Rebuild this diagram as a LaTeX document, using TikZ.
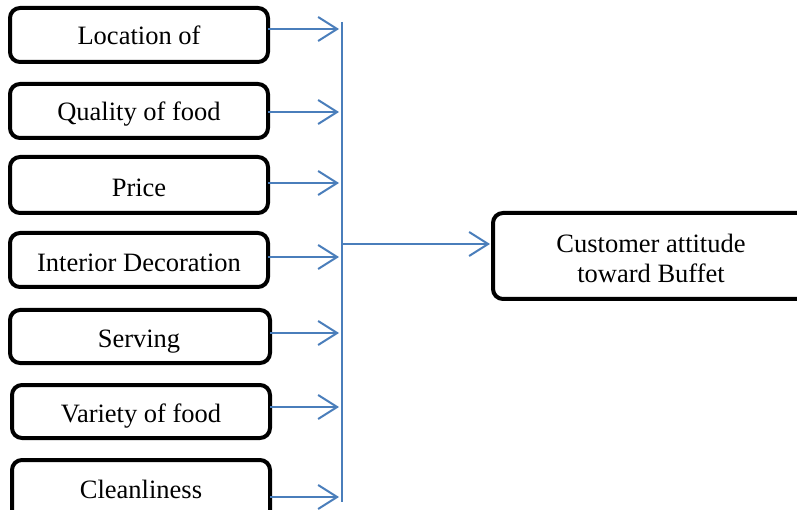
\documentclass[tikz,border=0pt]{standalone}
\usepackage{fontspec}
\setmainfont{Liberation Serif}
\usetikzlibrary{arrows.meta}
\definecolor{linkblue}{RGB}{74,126,187}
\begin{document}
\begin{tikzpicture}[x=1pt,y=-1pt,
  factor/.style={draw=black,line width=4pt,rounded corners=10pt,fill=white},
  lbl/.style={anchor=base,font=\fontsize{26.5}{31}\selectfont,inner sep=0pt},
  link/.style={draw=linkblue,line width=2pt},
  linkarrow/.style={link,-{Straight Barb[length=19pt,width=24pt,line width=2pt]}}]
\useasboundingbox (0,0) rectangle (797,510);
\clip (0,0) rectangle (797,510);
% left boxes
\draw[factor] (10,8) rectangle (268,62);
\draw[factor] (10,84) rectangle (268,138);
\draw[factor] (10,157) rectangle (268,213);
\draw[factor] (10,233) rectangle (268,287);
\draw[factor] (10,310) rectangle (270,363);
\draw[factor] (12,385) rectangle (270,438);
\draw[factor] (12,460) rectangle (270,522);
\node[lbl] (t1) at (139,45) {Location of};
\node[lbl] (t2) at (139,121) {Quality of food};
\node[lbl] (t3) at (139,197) {Price};
\node[lbl] (t4) at (139,272) {Interior Decoration};
\node[lbl] (t5) at (139,347) {Serving};
\node[lbl] (t6) at (141,422) {Variety of food};
\node[lbl] (t7) at (141,498) {Cleanliness};
% right box
\draw[factor] (493,213) rectangle (815,299);
\node[lbl] (r1) at (651,253) {Customer attitude};
\node[lbl] (r2) at (651,283) {toward Buffet};
% vertical bus
\coordinate (top) at (342,22);
\coordinate (bot) at (342,502);
\draw[link] (top) -- (bot);
% arrows into bus
\coordinate (s1) at (268,29);  \coordinate (e1) at (339,29);
\coordinate (s2) at (268,112); \coordinate (e2) at (339,112);
\coordinate (s3) at (268,183); \coordinate (e3) at (339,183);
\coordinate (s4) at (268,257); \coordinate (e4) at (339,257);
\coordinate (s5) at (270,333); \coordinate (e5) at (339,333);
\coordinate (s6) at (270,407); \coordinate (e6) at (339,407);
\coordinate (s7) at (270,497); \coordinate (e7) at (339,497);
\foreach \i in {1,...,7} {\draw[linkarrow] (s\i) -- (e\i);}
% main arrow
\coordinate (m) at (342,244);
\coordinate (mt) at (490,244);
\draw[linkarrow] (m) -- (mt);
\end{tikzpicture}
\end{document}
